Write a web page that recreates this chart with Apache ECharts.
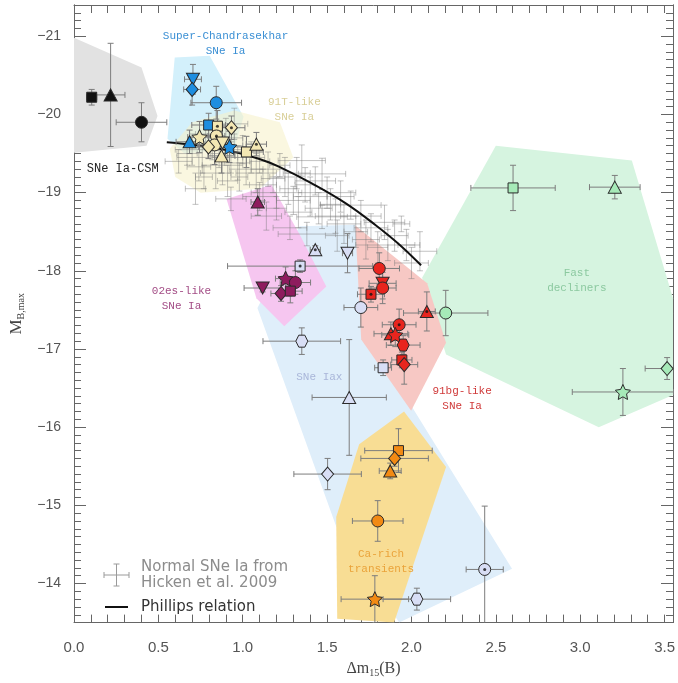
<!DOCTYPE html>
<html><head><meta charset="utf-8">
<script src="https://cdn.jsdelivr.net/npm/echarts@6/dist/echarts.min.js"></script>
<style>html,body{margin:0;padding:0;background:#fff}#c{width:678px;height:683px}</style>
</head><body><div id="c"></div>
<script>
// ---------- region outlines (data units: dm15, M_B) ----------
const regionCSM  = [[0,-20.98],[0.40,-20.60],[0.495,-19.98],[0.43,-19.60],[0,-19.51]];
const regionSCh  = [[0.597,-20.73],[0.804,-20.75],[1.005,-19.97],[0.95,-19.56],[0.655,-19.50],[0.554,-19.69]];
const region91T  = [[0.567,-19.56],[0.70,-19.90],[0.95,-20.05],[1.22,-19.90],[1.30,-19.45],[1.10,-19.05],[0.75,-19.0],[0.60,-19.2]];
const region02es = [[0.904,-18.92],[1.17,-19.10],[1.336,-18.47],[1.495,-17.80],[1.246,-17.29],[1.081,-17.65]];
const regionIax  = [[1.087,-17.525],[1.336,-18.57],[1.667,-18.59],[1.986,-16.32],[2.596,-14.19],[1.927,-13.5],[1.554,-14.73]];
const region91bg = [[1.667,-18.58],[2.093,-17.84],[2.205,-17.08],[1.998,-16.21],[1.702,-17.12]];
const regionFast = [[2.063,-17.91],[2.50,-19.60],[3.306,-19.41],[3.55,-17.65],[3.55,-16.41],[3.11,-16.0],[2.205,-16.93]];
const regionCa   = [[1.69,-15.78],[1.956,-16.20],[2.205,-15.49],[1.897,-13.5],[1.56,-13.55],[1.554,-14.85]];

// ---------- Normal SNe Ia (Hicken et al. 2009) ----------
const normX = [0.67,0.70,0.74,0.76,0.77,0.78,0.82,0.84,0.86,0.88,0.90,0.91,0.93,0.93,0.95,0.95,0.97,0.98,1.00,1.02,1.05,1.08,1.10,1.10,1.12,1.15,1.18,1.20,1.20,1.22,1.25,1.27,1.28,1.30,1.32,1.33,1.35,1.37,1.38,1.40,1.43,1.45,1.47,1.47,1.50,1.52,1.55,1.58,1.60,1.64,1.67,1.70,1.73,1.76,1.80,1.86,1.90,1.94,1.97,2.00,2.05,0.62,0.72,1.14,1.56,1.84];
const normY = [-19.50,-19.55,-19.33,-19.45,-19.20,-19.75,-19.62,-19.25,-19.50,-19.35,-19.70,-19.15,-19.45,-18.92,-19.60,-19.88,-19.38,-19.20,-19.55,-19.30,-19.45,-19.25,-19.40,-18.95,-19.10,-19.30,-19.18,-19.00,-18.80,-19.35,-19.20,-19.05,-18.55,-18.90,-19.25,-18.75,-19.41,-19.10,-18.47,-18.95,-19.15,-18.80,-19.24,-18.69,-19.00,-18.85,-18.70,-18.95,-18.60,-18.84,-18.50,-18.70,-18.40,-18.55,-18.30,-18.33,-18.45,-18.60,-18.33,-18.10,-18.25,-19.40,-19.05,-18.70,-18.45,-18.62];
const normXE = [0.06,0.10,0.07,0.15,0.05,0.06,0.08,0.09,0.05,0.12,0.10,0.06,0.07,0.09,0.05,0.08,0.08,0.05,0.06,0.10,0.08,0.12,0.06,0.10,0.08,0.10,0.07,0.15,0.06,0.06,0.09,0.05,0.10,0.10,0.08,0.08,0.14,0.06,0.17,0.10,0.12,0.08,0.14,0.15,0.17,0.06,0.12,0.08,0.10,0.18,0.07,0.12,0.08,0.10,0.06,0.19,0.08,0.05,0.05,0.10,0.10,0.08,0.06,0.09,0.07,0.12];
const normYE = [0.15,0.20,0.18,0.20,0.15,0.15,0.20,0.20,0.18,0.25,0.25,0.20,0.20,0.15,0.15,0.20,0.22,0.18,0.18,0.20,0.20,0.25,0.15,0.18,0.20,0.22,0.18,0.20,0.15,0.15,0.25,0.20,0.15,0.18,0.20,0.20,0.20,0.22,0.15,0.25,0.18,0.20,0.20,0.15,0.20,0.20,0.22,0.20,0.25,0.18,0.20,0.20,0.25,0.18,0.20,0.20,0.20,0.10,0.20,0.20,0.25,0.15,0.20,0.18,0.20,0.22];

// ---------- Phillips relation ----------
const phillipsX = [0.55,0.744,0.933,1.099,1.217,1.412,1.613,1.79,1.926,2.057];
const phillipsY = [-19.645,-19.60,-19.53,-19.43,-19.33,-19.115,-18.86,-18.58,-18.34,-18.07];

// ---------- peculiar classes (shape codes: s square, t triangle, v inverted triangle, c circle, d diamond, * star, h hexagon; '.' = central dot) ----------
const csmX=[0.105,0.217,0.40], csmY=[-20.22,-20.25,-19.90], csmXE=[0.03,0.085,0.15], csmYE=[0.10,0.66,0.25], csmS=['s','t','c'];
const schX=[0.705,0.70,0.843,0.798,0.685,0.921], schY=[-20.45,-20.32,-20.15,-19.865,-19.65,-19.585],
      schXE=[0.05,0.05,0.15,0.10,0.08,0.10], schYE=[0.19,0.20,0.21,0.15,0.15,0.20], schS=['v','d','c','s','t','*'];
const t91X=[0.850,0.933,0.844,0.744,0.833,0.797,0.88,0.874,1.022,1.081],
      t91Y=[-19.85,-19.83,-19.725,-19.71,-19.61,-19.585,-19.635,-19.47,-19.52,-19.62],
      t91XE=[0.06,0.08,0.05,0.07,0.10,0.06,0.05,0.08,0.10,0.06], t91YE=[0.20,0.15,0.18,0.20,0.25,0.15,0.20,0.22,0.20,0.15],
      t91S=['s.','d.','c.','*','c','d','v','t','s','t.'];
const es02X=[1.089,1.118,1.254,1.312,1.227,1.282], es02Y=[-18.88,-17.78,-17.90,-17.85,-17.71,-17.74],
      es02XE=[0.04,0.11,0.06,0.09,0.06,0.07], es02YE=[0.17,0.05,0.15,0.15,0.10,0.15], es02S=['t','v','*','c','d','s'];
const iaxX=[1.43,1.621,1.34,1.70,1.35,1.832,1.631,1.503,2.434,2.032],
      iaxY=[-18.27,-18.225,-18.06,-17.53,-17.10,-16.76,-16.38,-15.40,-14.18,-13.80],
      iaxXE=[0.03,0.03,0.43,0.10,0.23,0.05,0.22,0.20,0.11,0.20], iaxYE=[0.05,0.25,0.08,0.25,0.17,0.10,0.74,0.20,0.81,0.14],
      iaxS=['t.','v','s.','c','h','s','t','d','c.','h'];
const bg91X=[1.809,1.829,1.829,1.76,2.091,1.927,1.878,1.904,1.951,1.943,1.957],
      bg91Y=[-18.03,-17.84,-17.78,-17.70,-17.48,-17.31,-17.195,-17.18,-17.05,-16.86,-16.80],
      bg91XE=[0.12,0.08,0.08,0.08,0.05,0.10,0.10,0.08,0.10,0.06,0.08], bg91YE=[0.20,0.20,0.20,0.10,0.25,0.20,0.15,0.15,0.12,0.10,0.25],
      bg91S=['c','v','c','s.','t.','c.','t','*','h','s','d'];
const fastX=[2.602,3.205,2.203,3.253,3.515], fastY=[-19.06,-19.07,-17.46,-16.45,-16.75],
      fastXE=[0.25,0.15,0.25,0.30,0.13], fastYE=[0.29,0.15,0.29,0.30,0.14], fastS=['s','t','c','*','d'];
const caX=[1.923,1.90,1.874,1.80,1.783], caY=[-15.70,-15.60,-15.44,-14.80,-13.80],
      caXE=[0.20,0.20,0.065,0.15,0.20], caYE=[0.28,0.10,0.10,0.26,0.30], caS=['s','d','t','c','*'];

// ---------- region labels ----------
const labelTexts = ['Super-Chandrasekhar\nSNe Ia','91T-like\nSNe Ia','SNe Ia-CSM','02es-like\nSNe Ia','SNe Iax','91bg-like\nSNe Ia','Fast\ndecliners','Ca-rich\ntransients'];
const labelX = [0.898,1.306,0.289,0.637,1.454,2.30,2.98,1.82];
const labelY = [-20.91,-20.06,-19.30,-17.64,-16.64,-16.37,-17.87,-14.28];

// ---------- styling ----------
const labelColors = ['#3a8fd4','#d9cf98','#222222','#a34d86','#a9b6d9','#d03a3a','#8cc9a0','#eaa33a'];
const STAR = 'path://M0,-10L2.9,-4L9.51,-3.09L4.7,1.5L5.88,8.09L0,4.9L-5.88,8.09L-4.7,1.5L-9.51,-3.09L-2.9,-4Z';
const HEX = 'path://M-5,-8.66L5,-8.66L10,0L5,8.66L-5,8.66L-10,0Z';
function shapeOf(code){
  const c = code[0];
  if (c==='s') return {symbol:'rect', size:10, rot:0};
  if (c==='t') return {symbol:'triangle', size:[13,12], rot:0};
  if (c==='v') return {symbol:'triangle', size:[13,12], rot:180};
  if (c==='c') return {symbol:'circle', size:12, rot:0};
  if (c==='d') return {symbol:'diamond', size:[12,14], rot:0};
  if (c==='*') return {symbol:STAR, size:15, rot:0};
  return {symbol:HEX, size:12, rot:0};
}
function polySeries(verts, color, opacity){
  return {type:'custom', coordinateSystem:'cartesian2d', clip:true, silent:true, z:1, animation:false,
    data: verts.map(v=>[v[0],v[1]]),
    renderItem: function(params, api){
      if (params.dataIndex!==0) return null;
      const pts = verts.map(v=>api.coord(v));
      return {type:'polygon', shape:{points:pts}, style:{fill:color, opacity:opacity}};
    }};
}
function errSeries(X,Y,XE,YE,color,width,z){
  return {type:'custom', coordinateSystem:'cartesian2d', clip:true, silent:true, z:z, animation:false,
    data: X.map((x,i)=>[x,Y[i],XE[i],YE[i]]),
    encode:{x:0,y:1},
    renderItem: function(params, api){
      const x=api.value(0), y=api.value(1), xe=api.value(2), ye=api.value(3);
      const l=api.coord([x-xe,y]), r=api.coord([x+xe,y]), t=api.coord([x,y-ye]), b=api.coord([x,y+ye]);
      const c=3, st={stroke:color, lineWidth:width};
      return {type:'group', children:[
        {type:'line', shape:{x1:l[0],y1:l[1],x2:r[0],y2:r[1]}, style:st},
        {type:'line', shape:{x1:t[0],y1:t[1],x2:b[0],y2:b[1]}, style:st},
        {type:'line', shape:{x1:l[0],y1:l[1]-c,x2:l[0],y2:l[1]+c}, style:st},
        {type:'line', shape:{x1:r[0],y1:r[1]-c,x2:r[0],y2:r[1]+c}, style:st},
        {type:'line', shape:{x1:t[0]-c,y1:t[1],x2:t[0]+c,y2:t[1]}, style:st},
        {type:'line', shape:{x1:b[0]-c,y1:b[1],x2:b[0]+c,y2:b[1]}, style:st}
      ]};
    }};
}
function markerSeries(X,Y,S,fill){
  return {type:'scatter', z:5, silent:true, animation:false, clip:false,
    data: X.map((x,i)=>{const s=shapeOf(S[i]); return {value:[x,Y[i]], symbol:s.symbol, symbolSize:s.size, symbolRotate:s.rot};}),
    itemStyle:{color:fill, borderColor:'#2a2a2a', borderWidth:1, opacity:1}};
}
function dotSeries(groups){
  const d=[];
  groups.forEach(g=>{ g[0].forEach((x,i)=>{ if (g[2][i].indexOf('.')>=0) d.push([x,g[1][i]]); }); });
  return {type:'scatter', z:6, silent:true, animation:false, data:d, symbol:'circle', symbolSize:3, itemStyle:{color:'#111'}};
}

const classes = [
  [csmX,csmY,csmXE,csmYE,csmS,'#111111'],
  [schX,schY,schXE,schYE,schS,'#1e8ee0'],
  [t91X,t91Y,t91XE,t91YE,t91S,'#f3e7b3'],
  [es02X,es02Y,es02XE,es02YE,es02S,'#8e1c5e'],
  [iaxX,iaxY,iaxXE,iaxYE,iaxS,'#d8def5'],
  [bg91X,bg91Y,bg91XE,bg91YE,bg91S,'#e8251e'],
  [fastX,fastY,fastXE,fastYE,fastS,'#a6eab8'],
  [caX,caY,caXE,caYE,caS,'#f28a14']
];

const series = [
  polySeries(regionCSM,'#e2e2e2',1),
  polySeries(regionFast,'#d6f4e0',1),
  polySeries(regionIax,'#dfeefa',1),
  polySeries(region91bg,'#f7c8c4',1),
  polySeries(region02es,'#f6c6f0',1),
  polySeries(regionCa,'#f8dd94',1),
  polySeries(regionSCh,'#d3f0fb',1),
  polySeries(region91T,'#f6f2cc',0.6),
  errSeries(normX,normY,normXE,normYE,'rgba(120,120,120,0.45)',1,2),
  {type:'line', z:3, silent:true, animation:false, data: phillipsX.map((x,i)=>[x,phillipsY[i]]), smooth:0.4, symbol:'none', lineStyle:{color:'#111', width:2}}
];
classes.forEach(c=>series.push(errSeries(c[0],c[1],c[2],c[3],'#7d7d7d',1,4)));
classes.forEach(c=>series.push(markerSeries(c[0],c[1],c[4],c[5])));
series.push(dotSeries(classes.map(c=>[c[0],c[1],c[4]])));
series.push({type:'custom', coordinateSystem:'cartesian2d', z:7, silent:true, animation:false, clip:false,
  data: labelX.map((x,i)=>[x,labelY[i]]), encode:{x:0,y:1},
  renderItem: function(params, api){
    const i=params.dataIndex; const p=api.coord([api.value(0),api.value(1)]);
    return {type:'text', x:p[0], y:p[1], style:{text:labelTexts[i], fill:labelColors[i], font:(i===2?'12px':'11px')+' "Liberation Mono", monospace', align:'center', verticalAlign:'middle', lineHeight:15}};
  }});

const axColor = '#666';
const yFmt = v => { const r=Math.round(v); if (Math.abs(v-r)>1e-6) return ''; return (r<0?'\u2212':'')+Math.abs(r); };
const xFmt = v => { const k=v*2; if (Math.abs(k-Math.round(k))>1e-6) return ''; return v.toFixed(1); };
const xBase = {type:'value', min:0, max:3.55, interval:0.1, splitLine:{show:false},
  axisLine:{show:true, onZero:false, lineStyle:{color:axColor, width:1}},
  axisTick:{show:true, inside:true, length:8, lineStyle:{color:axColor}}};
const yBase = {type:'value', min:-21.4, max:-13.5, inverse:true, splitLine:{show:false},
  axisLine:{show:true, onZero:false, lineStyle:{color:axColor, width:1}}};

const option = {
  animation:false,
  backgroundColor:'#fff',
  grid:{left:74, top:5, width:600, height:621, containLabel:false},
  xAxis:[
    Object.assign({}, xBase, {position:'bottom',
      axisLabel:{interval:0, formatter:xFmt, color:'#555', fontSize:15, fontFamily:'Liberation Sans', margin:18, hideOverlap:false},
      name:'{a|\u0394m}{s|15}{a|(B)}', nameLocation:'middle', nameGap:33,
      nameTextStyle:{rich:{a:{fontSize:16, fontFamily:'Liberation Serif', color:'#444'}, s:{fontSize:10, fontFamily:'Liberation Serif', color:'#444', padding:[9,0,0,0]}}}}),
    Object.assign({}, xBase, {position:'top', axisLabel:{show:false}})
  ],
  yAxis:[
    Object.assign({}, yBase, {position:'left', minInterval:1, maxInterval:1,
      axisTick:{show:true, inside:true, length:12, lineStyle:{color:axColor}},
      axisLabel:{formatter:yFmt, color:'#555', fontSize:14, fontFamily:'Liberation Sans', margin:13, showMinLabel:false, showMaxLabel:false},
      name:'{a|M}{s|B,max}', nameLocation:'middle', nameGap:41,
      nameTextStyle:{rich:{a:{fontSize:17, fontFamily:'Liberation Serif', color:'#444'}, s:{fontSize:10, fontFamily:'Liberation Serif', color:'#444', padding:[9,0,0,0]}}}}),
    Object.assign({}, yBase, {position:'right', minInterval:1, maxInterval:1,
      axisTick:{show:true, inside:true, length:12, lineStyle:{color:axColor}}, axisLabel:{show:false}}),
    Object.assign({}, yBase, {position:'left', interval:0.1,
      axisTick:{show:true, inside:true, length:7, lineStyle:{color:axColor}}, axisLabel:{show:false}}),
    Object.assign({}, yBase, {position:'right', interval:0.1,
      axisTick:{show:true, inside:true, length:7, lineStyle:{color:axColor}}, axisLabel:{show:false}})
  ],
  graphic:[
    {type:'line', shape:{x1:104,y1:575,x2:129,y2:575}, style:{stroke:'#9a9a9a', lineWidth:1}},
    {type:'line', shape:{x1:116.5,y1:564,x2:116.5,y2:586}, style:{stroke:'#9a9a9a', lineWidth:1}},
    {type:'line', shape:{x1:104,y1:572,x2:104,y2:578}, style:{stroke:'#9a9a9a', lineWidth:1}},
    {type:'line', shape:{x1:129,y1:572,x2:129,y2:578}, style:{stroke:'#9a9a9a', lineWidth:1}},
    {type:'line', shape:{x1:113.5,y1:564,x2:119.5,y2:564}, style:{stroke:'#9a9a9a', lineWidth:1}},
    {type:'line', shape:{x1:113.5,y1:586,x2:119.5,y2:586}, style:{stroke:'#9a9a9a', lineWidth:1}},
    {type:'text', x:141, y:575, style:{text:'Normal SNe Ia from\nHicken et al. 2009', fill:'#8c8c8c', font:'15px "DejaVu Sans"', verticalAlign:'middle', lineHeight:16}},
    {type:'line', shape:{x1:105,y1:607,x2:128,y2:607}, style:{stroke:'#111', lineWidth:2}},
    {type:'text', x:141, y:607, style:{text:'Phillips relation', fill:'#333', font:'15px "DejaVu Sans"', verticalAlign:'middle'}}
  ],
  series: series
};
const chart = echarts.init(document.getElementById('c'), null, {renderer:'canvas'});
chart.setOption(option);
</script>
</body></html>
